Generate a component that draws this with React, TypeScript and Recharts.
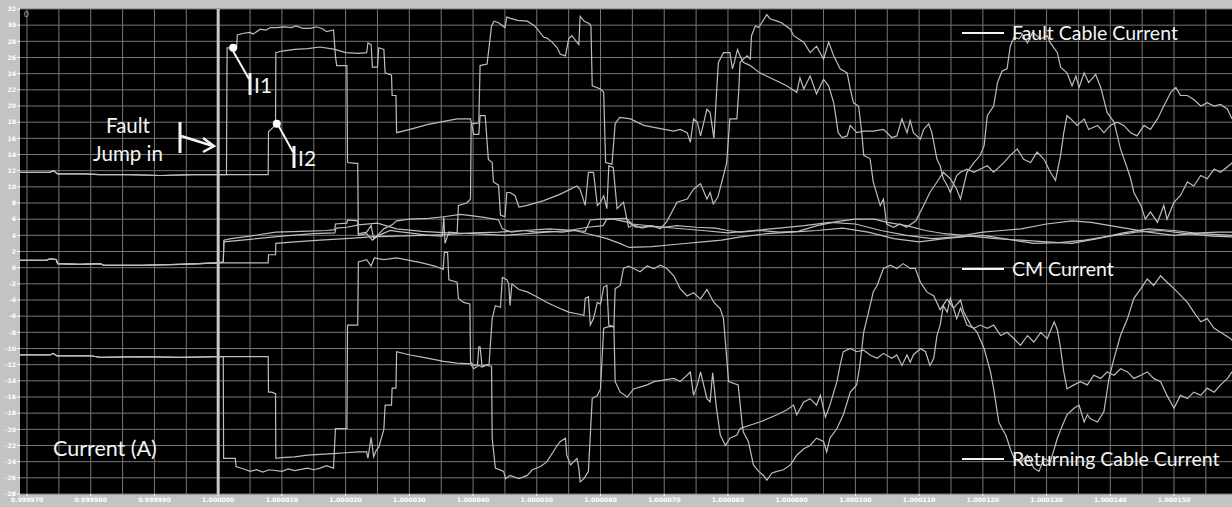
import React from 'react';
import { LineChart, Line, XAxis, YAxis, CartesianGrid, ReferenceLine, ReferenceDot } from 'recharts';

// [time offset in µs from t = 1.000000 s, current in A]
type Pt = [number, number];

const X_DOMAIN: [number, number] = [-31.1, 159.1];
const Y_DOMAIN: [number, number] = [-28, 32];
const xTicks = [-30, -20, -10, 0, 10, 20, 30, 40, 50, 60, 70, 80, 90, 100, 110, 120, 130, 140, 150];
const xGridValues = [-30, -25, -20, -15, -10, -5, 0, 5, 10, 15, 20, 25, 30, 35, 40, 45, 50, 55, 60, 65, 70, 75, 80, 85, 90, 95, 100, 105, 110, 115, 120, 125, 130, 135, 140, 145, 150, 155];
const yTicks = [-28, -26, -24, -22, -20, -18, -16, -14, -12, -10, -8, -6, -4, -2, 0, 2, 4, 6, 8, 10, 12, 14, 16, 18, 20, 22, 24, 26, 28, 30, 32];
const FAULT_T = 0;

// steady state before the fault
const faultPre: Pt[] = [[-31.1, 11.8], [-26.5, 11.8], [-25.8, 12.0], [-25.2, 11.6], [-21, 11.6], [-18.6, 11.5], [-14, 11.5], [-9, 11.4], [-4, 11.5], [0, 11.5]];
const returnPre: Pt[] = [[-31.1, -10.8], [-26.4, -10.8], [-25.9, -10.6], [-25.3, -10.9], [-20, -10.9], [-18.5, -11.1], [-12, -11.0], [-6, -11.1], [0, -11.0]];
const cmPre: Pt[] = [[-31.1, 0.9], [-27, 0.9], [-26.4, 1.1], [-25.4, 1.0], [-25.2, 0.5], [-21.7, 0.4], [-18.5, 0.5], [-18.0, 0.3], [-12, 0.3], [-6, 0.4], [0, 0.6]];

const faultCable1: Pt[] = [...faultPre,
  [1.3, 11.5], [1.4, 27.2], [2.9, 27.2], [3.0, 28.8], [4.0, 29.0], [5.0, 29.1], [5.5, 28.9], [6.6, 29.5], [7.5, 29.4], [8.2, 29.7], [9.2, 29.7], [10.3, 29.8], [11.5, 29.7], [12.2, 29.9], [13.3, 29.6], [14.4, 29.6], [15.5, 29.8], [16.5, 29.5], [17.0, 29.2], [18.1, 29.4],
  [18.4, 26.2], [18.6, 25.0], [20.2, 25.0], [20.3, 13.0], [21.5, 12.9], [21.9, 12.9], [22.0, 4.0], [23.3, 4.2], [24.2, 3.4], [25.2, 4.0], [27.0, 4.6], [28.0, 4.5], [30.0, 4.3], [33.0, 4.0], [35.2, 3.9], [35.4, 6.3], [35.6, 3.0], [36.2, 4.4], [37.5, 4.3], [37.7, 7.7], [39.0, 8.0], [39.6, 8.5],
  [39.7, 17.8], [40.9, 17.9], [41.1, 25.0], [42.2, 25.2], [42.9, 29.9], [43.3, 30.5], [44.0, 30.3], [45.0, 29.7], [45.3, 31.0], [46.0, 30.8], [47.0, 30.6], [48.5, 30.5], [49.5, 30.0], [50.0, 29.6], [51.1, 28.5], [51.6, 28.4], [52.4, 27.9], [53.2, 27.2], [53.7, 26.4], [54.5, 26.2], [55.0, 28.3], [55.5, 28.7], [56.6, 27.6], [56.8, 31.1], [57.4, 30.5], [58.2, 30.2], [58.5, 29.9],
  [58.7, 22.5], [60.0, 22.1], [60.5, 21.7], [60.8, 13.0], [61.8, 12.8], [62.3, 17.8], [63.0, 18.6], [64.7, 18.4], [66.8, 17.6], [69.4, 17.2], [71.5, 16.9], [72.5, 17.1], [73.6, 16.7], [74.1, 15.5], [74.6, 18.4], [75.2, 18.0], [75.7, 16.3], [76.7, 19.6], [77.2, 19.2], [77.8, 16.0],
  [78.2, 21.5], [78.5, 25.4], [79.3, 26.6], [80.0, 26.6], [80.3, 26.6], [80.7, 24.6], [81.0, 25.4], [81.5, 27.0], [81.9, 26.2], [82.4, 25.4], [83.5, 25.0], [85.0, 24.1], [86.6, 23.5], [87.7, 23.1], [89.2, 22.5], [90.8, 21.7], [91.3, 23.5], [91.9, 22.1], [92.9, 23.7], [93.9, 21.5], [95.0, 23.3], [95.8, 22.5], [96.6, 20.4],
  [97.3, 16.7], [97.9, 16.1], [98.7, 16.3], [99.2, 17.6], [100.2, 16.7], [101.3, 16.9], [102.8, 16.9], [104.4, 17.1], [105.7, 16.1], [106.5, 16.3], [107.3, 18.4], [108.1, 16.7], [108.6, 18.2], [109.1, 16.7], [110.2, 15.9], [110.7, 17.1], [111.5, 17.8], [112.0, 16.7],
  [112.8, 13.4], [113.3, 12.6], [113.8, 11.0], [114.4, 10.2], [114.9, 9.3], [115.9, 11.4], [116.5, 11.8], [117.5, 12.2], [118.6, 11.8], [119.6, 12.2], [120.7, 12.6], [121.7, 11.8], [123.3, 13.0], [124.3, 13.9], [125.4, 14.7], [126.4, 13.4], [127.5, 13.0], [128.5, 14.3], [129.6, 13.4], [130.6, 11.8], [131.4, 10.8],
  [132.2, 13.9], [132.7, 16.7], [133.2, 18.8], [133.8, 18.4], [134.8, 17.6], [135.9, 18.4], [136.6, 17.1], [138.0, 17.6], [139.0, 16.7], [140.0, 17.6], [141.1, 18.0], [142.1, 17.6], [143.2, 16.7], [144.2, 16.3], [145.3, 17.6], [146.3, 17.1], [147.4, 18.4],
  [148.4, 20.0], [149.5, 21.7], [150.3, 22.3], [151.0, 21.3], [152.1, 21.3], [153.1, 20.8], [154.2, 20.0], [155.2, 20.4], [156.3, 20.0], [157.3, 20.2], [158.4, 19.6], [159.1, 18.4],
];

const faultCable2: Pt[] = [...faultPre,
  [4.0, 11.5], [7.85, 11.5], [7.9, 16.8], [8.4, 17.2], [9.0, 17.6], [9.05, 26.6], [10.0, 26.8], [12.0, 27.0], [14.0, 27.1], [16.0, 27.3], [18.3, 27.0], [20.0, 26.6], [22.0, 26.5], [23.3, 26.6], [23.5, 27.8], [24.0, 27.6], [24.2, 24.8], [25.0, 24.8], [25.2, 27.2], [26.0, 27.0], [26.2, 24.1], [27.2, 23.8], [27.3, 21.3], [27.9, 21.3],
  [28.0, 16.7], [30.1, 17.1], [32.8, 17.7], [35.4, 18.1], [37.5, 18.4], [39.6, 18.4], [40.1, 16.5], [40.9, 16.5], [41.1, 18.8], [41.9, 18.8], [42.4, 13.4], [43.0, 13.0], [43.2, 10.6], [44.0, 10.2], [44.3, 6.5], [45.0, 6.3],
  [45.3, 9.3], [45.8, 9.3], [46.6, 8.9], [47.2, 7.5], [48.5, 7.7], [51.1, 8.3], [53.7, 9.1], [56.3, 10.1], [56.8, 9.7], [57.6, 7.7], [58.1, 11.8], [58.9, 11.8], [59.5, 7.7], [60.0, 8.1], [60.5, 8.9], [61.0, 7.3], [61.3, 12.6], [62.0, 12.4], [62.6, 7.3], [63.6, 8.1],
  [64.4, 5.0], [65.2, 5.3], [66.5, 4.9], [68.0, 5.2], [69.4, 4.8], [70.4, 5.7], [72.0, 8.1], [73.6, 8.5], [74.6, 9.7], [75.7, 10.4], [76.7, 8.5], [77.2, 9.3], [77.7, 7.9], [78.4, 8.7], [79.3, 11.4], [79.8, 13.0],
  [80.3, 18.4], [81.4, 18.4], [81.7, 22.0], [81.9, 25.4], [82.4, 25.8], [83.0, 26.2], [83.5, 25.8], [83.7, 28.7], [84.3, 29.9], [84.8, 29.7], [85.3, 30.3], [86.1, 31.3], [86.6, 30.8], [87.7, 30.5], [88.4, 30.3], [89.8, 29.5], [90.3, 28.7], [91.9, 27.9], [92.9, 26.6], [93.9, 27.4], [95.0, 25.8], [95.8, 27.9], [96.6, 26.2], [97.6, 24.6], [98.7, 24.1], [99.2, 22.1], [99.7, 20.4], [100.5, 20.0],
  [101.0, 16.7], [101.3, 13.9], [102.3, 13.5], [102.8, 10.6], [103.4, 9.0], [103.9, 7.7], [104.4, 8.5], [104.9, 5.4], [106.0, 5.0], [107.0, 5.4], [108.0, 5.0], [109.5, 5.8], [110.7, 7.7], [111.7, 9.3], [112.8, 10.6], [113.8, 11.8], [114.9, 11.0], [115.9, 9.7], [116.5, 8.5],
  [117.5, 11.8], [118.6, 13.0], [119.6, 13.9], [120.2, 15.1], [120.7, 18.8], [121.7, 20.0], [122.3, 22.9], [123.0, 24.3], [123.8, 24.6], [124.3, 27.4], [124.9, 28.5], [125.7, 28.3], [126.2, 28.9], [127.0, 27.8], [127.8, 29.1], [129.1, 28.3], [130.1, 28.7], [130.6, 27.8], [131.7, 26.6], [132.2, 24.8], [133.2, 24.1], [134.0, 22.5], [134.6, 23.7], [135.1, 22.3], [135.9, 24.1], [136.6, 22.9], [137.7, 23.9], [138.5, 22.3],
  [139.5, 19.2], [140.6, 18.0], [141.6, 14.7], [142.7, 12.2], [143.2, 11.0], [143.7, 9.3], [144.8, 7.7], [145.5, 6.0], [146.3, 6.9], [147.4, 5.6], [148.4, 7.7], [148.9, 6.0], [150.0, 8.1], [151.0, 8.9], [152.1, 10.6], [153.1, 10.1], [154.2, 11.4], [155.2, 11.0], [156.3, 12.2], [157.3, 11.8], [158.9, 12.8], [159.1, 13.0],
];

const returnCable1: Pt[] = [...returnPre,
  [0.8, -11.0], [0.85, -23.6], [2.7, -23.6], [2.8, -24.6], [4.0, -24.9], [5.0, -25.2], [6.0, -25.0], [7.0, -25.3], [8.0, -25.0], [10.0, -25.2], [11.0, -24.9], [12.0, -25.1], [14.0, -24.8], [15.0, -25.0], [16.0, -24.8], [17.0, -24.5], [18.1, -24.8],
  [18.4, -19.9], [20.2, -19.9], [20.3, -7.1], [21.9, -7.1], [22.0, 0.7], [23.3, 1.0], [24.0, 0.2], [24.5, 1.2], [26.0, 1.0], [28.0, 1.2], [30.0, 0.9], [32.0, 0.6], [34.0, 0.2], [35.3, -0.2], [35.5, 1.9], [36.0, 1.9], [36.2, -1.5], [37.5, -1.8], [37.7, -3.8], [38.5, -4.3], [39.5, -4.5],
  [39.6, -11.7], [40.1, -12.1], [40.7, -12.0], [40.9, -9.8], [41.1, -9.8], [41.4, -12.1], [42.2, -12.1], [42.9, -12.2], [43.0, -21.1], [43.5, -24.8], [44.8, -25.2], [45.1, -26.1], [45.8, -25.7], [47.2, -26.1], [48.5, -25.7], [49.3, -25.0], [50.6, -24.6], [51.6, -24.0], [53.2, -22.0], [53.7, -21.5], [54.5, -21.1], [54.7, -23.2], [55.3, -24.4], [56.3, -23.6], [56.6, -24.8], [56.8, -26.5], [57.4, -26.1], [58.1, -25.2],
  [58.7, -16.2], [59.5, -15.8], [60.0, -15.0], [60.5, -7.5], [61.3, -7.3], [62.1, -7.3], [62.3, -14.1], [63.1, -15.4], [64.2, -16.0], [65.2, -15.0], [67.3, -14.5], [68.4, -14.1], [71.5, -13.7], [72.5, -14.1], [74.1, -12.9], [74.6, -15.8], [75.2, -14.5], [75.7, -12.9], [76.7, -16.2], [77.2, -16.6], [77.6, -13.0],
  [78.2, -17.4], [78.8, -20.7], [79.6, -22.0], [80.3, -21.1], [81.4, -20.7], [81.9, -19.9], [85.0, -19.1], [87.7, -18.2], [89.2, -17.6], [90.3, -17.0], [90.8, -18.2], [91.9, -16.6], [92.9, -16.2], [93.9, -17.0], [94.5, -15.8], [95.3, -18.5], [96.0, -17.0],
  [97.1, -14.1], [97.6, -12.1], [98.1, -10.4], [99.2, -10.0], [100.2, -10.4], [101.3, -10.2], [102.3, -10.8], [103.4, -11.2], [104.4, -10.6], [105.7, -11.2], [106.5, -10.8], [107.3, -12.1], [108.1, -10.8], [108.6, -11.7], [109.1, -10.8], [110.2, -10.0], [111.0, -10.4], [111.7, -12.1], [112.3, -11.2],
  [112.8, -8.4], [113.3, -7.1], [113.8, -4.7], [114.4, -5.5], [114.9, -3.8], [115.9, -6.3], [116.5, -5.0], [117.5, -7.1], [118.6, -7.5], [119.6, -7.1], [120.7, -7.5], [121.7, -7.1], [122.8, -8.4], [123.8, -8.0], [124.9, -8.8], [125.9, -9.6], [127.0, -8.4], [128.0, -9.2], [129.1, -8.0], [130.1, -8.8], [131.2, -6.7], [131.7, -7.7],
  [132.2, -10.0], [132.7, -12.9], [133.2, -15.0], [134.3, -14.5], [135.3, -14.1], [136.4, -14.5], [137.4, -13.3], [138.5, -13.7], [139.5, -12.9], [140.6, -13.3], [141.6, -12.5], [142.7, -12.9], [143.7, -13.7], [144.8, -13.3], [145.8, -12.9], [146.8, -13.7], [147.9, -14.1],
  [148.9, -15.8], [150.0, -17.4], [151.0, -15.8], [152.1, -16.2], [153.1, -15.4], [154.2, -15.8], [155.2, -14.9], [156.3, -15.4], [157.3, -14.5], [158.4, -13.7], [159.1, -12.9],
];

const returnCable2: Pt[] = [...returnPre,
  [4.0, -11.0], [7.85, -11.0], [7.9, -15.4], [8.4, -15.4], [9.0, -15.6], [9.05, -23.6], [10.0, -23.5], [12.0, -23.4], [14.0, -23.2], [16.0, -23.1], [18.0, -23.0], [20.0, -22.9], [22.0, -22.8], [23.3, -22.8], [23.5, -23.6], [24.0, -21.0], [24.4, -23.4], [24.8, -22.6], [25.2, -22.2], [26.0, -20.0], [26.2, -17.0], [27.2, -17.0], [27.3, -14.9], [27.9, -14.9],
  [28.0, -10.4], [30.1, -10.8], [32.8, -11.2], [35.4, -11.6], [37.5, -11.8], [39.6, -11.9], [40.1, -12.5], [40.9, -12.1], [41.4, -12.3], [42.2, -12.0], [42.5, -12.0],
  [43.0, -6.3], [43.5, -4.7], [44.3, -4.9], [44.6, -1.2], [45.3, -1.5], [45.6, -2.0], [45.8, -4.7], [46.1, -2.0], [47.2, -2.7], [48.5, -3.0], [50.0, -3.6], [51.6, -4.3], [53.2, -4.9], [55.0, -5.5], [56.3, -5.7], [57.4, -5.9], [57.6, -3.8], [58.1, -3.6], [58.4, -7.1], [58.9, -6.3], [59.5, -4.3], [60.0, -4.5], [60.5, -2.4], [61.0, -2.2], [61.3, -7.1], [62.1, -7.3], [62.3, -2.6], [63.1, -2.2],
  [63.6, -0.1], [64.4, 0.2], [65.2, -0.1], [66.2, -0.5], [67.3, 0.2], [68.4, -0.1], [69.4, 0.3], [70.4, -0.1], [71.5, -1.0], [72.5, -2.6], [73.6, -3.5], [74.6, -3.1], [75.7, -3.9], [76.7, -2.7], [77.8, -4.3], [78.8, -5.1], [79.3, -6.3],
  [80.1, -14.1], [81.6, -14.5], [82.2, -19.1], [82.4, -20.3], [83.2, -21.5], [84.0, -24.4], [84.8, -25.2], [85.6, -25.7], [86.1, -26.3], [86.9, -25.4], [87.7, -25.2], [88.7, -25.0], [89.8, -24.4], [90.8, -23.2], [91.9, -22.4], [92.9, -22.0], [93.9, -21.1], [95.0, -21.5], [95.5, -22.8], [96.0, -21.1], [97.1, -19.9], [98.1, -18.2], [99.2, -15.4], [100.2, -14.5],
  [100.7, -12.1], [101.3, -8.0], [102.3, -4.7], [102.8, -3.0], [103.4, -2.2], [104.4, -0.1], [105.5, 0.3], [106.5, -0.1], [107.5, 0.5], [108.6, -0.1], [109.4, -0.1], [110.2, -1.8], [111.2, -3.0], [112.3, -3.5], [113.3, -5.2], [114.4, -3.9], [115.4, -5.0], [116.5, -4.0], [117.0, -5.5],
  [118.1, -7.1], [119.1, -8.0], [120.2, -10.0], [121.2, -12.9], [121.7, -15.0], [122.5, -19.1], [123.0, -19.9], [123.6, -20.7], [124.3, -22.4], [124.9, -23.6], [125.9, -24.0], [127.0, -23.2], [128.0, -24.8], [128.8, -25.2], [129.6, -23.6], [130.6, -24.0], [131.7, -21.1], [132.5, -19.5], [133.2, -18.2], [134.3, -17.4], [135.1, -17.0], [135.9, -19.1], [136.4, -18.2], [136.9, -18.7], [138.0, -19.1], [139.0, -17.8],
  [139.8, -13.7], [140.6, -11.2], [141.6, -8.4], [142.7, -6.3], [143.7, -3.8], [144.8, -2.6], [145.8, -1.4], [146.8, -2.2], [147.9, -1.0], [148.9, -1.8], [150.0, -2.6], [151.0, -3.4], [152.1, -4.3], [153.1, -5.5], [154.2, -6.7], [155.2, -6.3], [156.3, -7.5], [157.3, -8.0], [158.9, -8.8], [159.1, -9.0],
];

const cmCurrent1: Pt[] = [...cmPre,
  [0.8, 0.7], [0.9, 3.4], [2.0, 3.6], [5.0, 3.9], [9.0, 4.4], [13.0, 4.5], [17.0, 4.6], [18.3, 4.7], [18.4, 5.4], [20.2, 5.5], [20.3, 5.9], [21.9, 5.8], [22.0, 4.2], [23.3, 4.4], [24.0, 5.2], [24.4, 3.6], [25.0, 4.0], [26.0, 4.8], [27.3, 5.3], [28.0, 5.8], [30.0, 6.0], [33.0, 6.1], [35.4, 6.3], [38.0, 6.6], [40.0, 6.4], [42.0, 6.2], [44.0, 5.9],
  [44.6, 4.8], [46.0, 4.4], [48.0, 4.6], [50.0, 4.4], [52.0, 4.5], [54.0, 4.4], [56.0, 4.6], [57.6, 4.5], [58.4, 5.9], [60.0, 6.0], [62.0, 6.0], [64.4, 5.6], [65.5, 5.0], [68.0, 5.1], [70.0, 5.0], [72.0, 5.2], [75.0, 5.0], [78.0, 4.9], [80.0, 4.6], [82.0, 4.4], [85.0, 4.6], [88.0, 4.4], [91.0, 4.5], [94.0, 5.2], [97.0, 5.7], [100.0, 6.0], [103.0, 6.0],
  [105.0, 5.6], [108.0, 5.2], [111.0, 4.6], [114.0, 4.2], [117.0, 4.0], [120.0, 4.4], [123.0, 4.6], [126.0, 4.8], [130.0, 5.4], [134.0, 5.8], [137.0, 5.6], [140.0, 5.2], [143.0, 4.8], [146.0, 4.4], [150.0, 4.0], [154.0, 4.3], [157.0, 4.4], [159.1, 4.4],
];

const cmCurrent2: Pt[] = [...cmPre,
  [4.0, 0.6], [7.85, 0.6], [7.9, 1.6], [9.0, 1.6], [9.05, 3.0], [12.0, 3.2], [16.0, 3.4], [20.0, 3.6], [24.0, 3.8], [28.0, 3.9], [32.0, 4.0], [36.0, 4.1], [40.0, 4.3], [44.0, 4.4], [48.0, 4.6], [52.0, 4.8], [56.0, 4.6], [58.0, 4.2], [61.0, 3.6], [63.0, 3.0], [64.5, 2.5], [68.0, 2.6], [72.0, 2.9], [76.0, 3.2], [79.0, 3.4],
  [82.0, 3.8], [86.0, 4.2], [90.0, 4.4], [94.0, 4.6], [98.0, 4.9], [102.0, 4.4], [106.0, 3.6], [110.0, 3.2], [114.0, 3.6], [118.0, 3.9], [122.0, 3.6], [126.0, 3.4], [130.0, 3.2], [134.0, 3.0], [138.0, 3.6], [142.0, 4.3], [146.0, 4.8], [150.0, 4.6], [154.0, 4.2], [159.1, 4.0],
];

const cmCurrent3: Pt[] = [...cmPre,
  [0.8, 0.7], [0.9, 3.2], [5.0, 3.5], [10.0, 3.9], [15.0, 4.2], [18.3, 4.3], [18.5, 4.9], [20.2, 5.0], [22.0, 5.3], [25.0, 5.5], [28.0, 4.8], [32.0, 4.5], [36.0, 4.3], [40.0, 4.2], [45.0, 4.0], [50.0, 4.3], [55.0, 4.6], [58.0, 5.0], [60.4, 5.2], [61.0, 6.0], [64.0, 6.1], [65.0, 5.4], [70.0, 5.0], [76.0, 4.6],
  [80.0, 4.3], [84.0, 4.6], [88.0, 4.9], [92.0, 5.2], [96.0, 5.6], [100.0, 5.4], [104.0, 4.6], [108.0, 4.0], [112.0, 3.6], [116.0, 3.8], [120.0, 4.0], [124.0, 3.5], [128.0, 3.0], [132.0, 3.1], [136.0, 3.4], [140.0, 3.9], [144.0, 4.4], [148.0, 4.6], [152.0, 4.2], [156.0, 3.9], [159.1, 3.8],
];

// points picked out with a dot and a tag
const markerLabels = ['I1', 'I2'];
const markerT = [2.35, 9.2];
const markerV = [27.2, 17.8];

const traces: { key: string; pts: Pt[] }[] = [
  { key: 'cm1', pts: cmCurrent1 },
  { key: 'cm2', pts: cmCurrent2 },
  { key: 'cm3', pts: cmCurrent3 },
  { key: 'ret1', pts: returnCable1 },
  { key: 'ret2', pts: returnCable2 },
  { key: 'fault1', pts: faultCable1 },
  { key: 'fault2', pts: faultCable2 },
];

const toRows = (pts: Pt[]) => pts.map(([t, v]) => ({ t, v }));
const fmtTime = (t: number) => (1 + t / 1e6).toFixed(6);

const TRACE = '#bdbdbd';
const GRID = '#767676';
const TXT = '#f4f4f4';
const ANN_FONT = 'Lato, "Open Sans", sans-serif';

export default function App() {
  return (
    <div style={{ position: 'absolute', left: 0, top: 0, width: 1232, height: 507, background: '#c3c3c3', fontFamily: '"DejaVu Sans", sans-serif', overflow: 'hidden' }}>
      <LineChart width={1232} height={507} margin={{ top: 9, right: 0, bottom: 0, left: 0 }}>
        <CartesianGrid fill="#000" stroke={GRID} strokeWidth={1} verticalValues={xGridValues} horizontalValues={yTicks} />
        <XAxis
          type="number"
          dataKey="t"
          domain={X_DOMAIN}
          allowDataOverflow
          ticks={xTicks}
          interval={0}
          tickFormatter={fmtTime}
          height={13}
          axisLine={false}
          tickSize={2}
          tickMargin={2}
          tickLine={{ stroke: '#fff' }}
          tick={{ fill: '#fff', fontSize: 6.2, fontWeight: 700 }}
        />
        <YAxis
          type="number"
          dataKey="v"
          domain={Y_DOMAIN}
          allowDataOverflow
          ticks={yTicks}
          interval={0}
          width={20}
          axisLine={false}
          tickSize={3}
          tickMargin={1}
          tickLine={{ stroke: '#fff' }}
          tick={{ fill: '#fff', fontSize: 6.2, fontWeight: 700 }}
        />
        <ReferenceLine x={FAULT_T} stroke="#c9c9c9" strokeWidth={3} />
        {traces.map((s) => (
          <Line
            key={s.key}
            data={toRows(s.pts)}
            dataKey="v"
            type="linear"
            stroke={TRACE}
            strokeWidth={1.2}
            dot={false}
            activeDot={false}
            isAnimationActive={false}
          />
        ))}
        {markerLabels.map((m, i) => (
          <ReferenceDot key={m} x={markerT[i]} y={markerV[i]} r={4} fill="#fff" stroke="none" />
        ))}
      </LineChart>
      <svg width={1232} height={507} style={{ position: 'absolute', left: 0, top: 0, pointerEvents: 'none' }}>
        <g fill={TXT} fontFamily={ANN_FONT}>
          <text x={24} y={17} fontSize={8} fill="#bbb">0</text>
          {/* fault instant callout */}
          <text x={128} y={133} fontSize={20.5} textAnchor="middle">Fault</text>
          <text x={128} y={161} fontSize={20.5} textAnchor="middle">Jump in</text>
          <line x1={180} y1={122} x2={180} y2={153} stroke={TXT} strokeWidth={3} />
          <line x1={181} y1={136} x2={213} y2={146} stroke={TXT} strokeWidth={2.5} />
          <polyline points="203,138 214,146 203,152" fill="none" stroke={TXT} strokeWidth={2.5} />
          {/* I1 / I2 tags */}
          <line x1={233} y1={51} x2={249} y2={79} stroke={TXT} strokeWidth={2} />
          <line x1={250} y1={73} x2={250} y2={95} stroke={TXT} strokeWidth={3} />
          <text x={254} y={93} fontSize={21}>{markerLabels[0]}</text>
          <line x1={277} y1={123} x2={293} y2={152} stroke={TXT} strokeWidth={2} />
          <line x1={294} y1={146} x2={294} y2={168} stroke={TXT} strokeWidth={3} />
          <text x={298} y={166} fontSize={21}>{markerLabels[1]}</text>
          {/* legend */}
          <line x1={962} y1={33} x2={1004} y2={33} stroke={TXT} strokeWidth={2} />
          <text x={1012} y={40} fontSize={19.5}>Fault Cable Current</text>
          <line x1={962} y1={269} x2={1004} y2={269} stroke={TXT} strokeWidth={2} />
          <text x={1012} y={276} fontSize={19.5}>CM Current</text>
          <line x1={962} y1={459} x2={1004} y2={459} stroke={TXT} strokeWidth={2} />
          <text x={1012} y={466} fontSize={19.5}>Returning Cable Current</text>
          <text x={53} y={456} fontSize={21.5}>Current (A)</text>
        </g>
      </svg>
    </div>
  );
}
